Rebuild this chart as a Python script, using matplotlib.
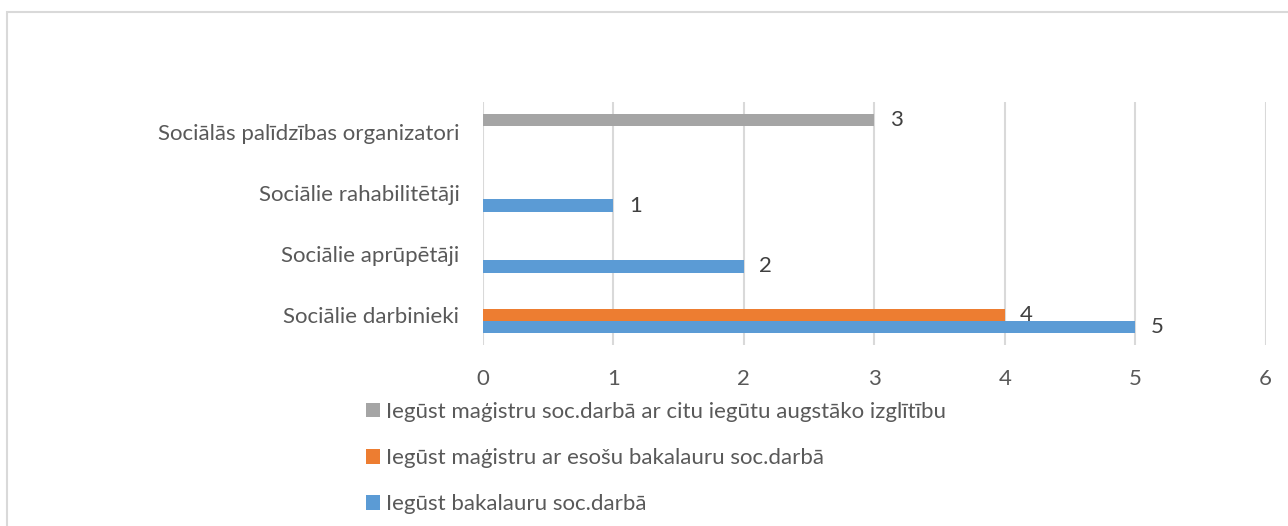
import matplotlib
matplotlib.use("Agg")
import matplotlib.pyplot as plt
from matplotlib.patches import Rectangle
import numpy as np

categories = ["Sociālie darbinieki", "Sociālie aprūpētāji", "Sociālie rahabilitētāji",
              "Sociālās palīdzības organizatori"]
series_names = ["Iegūst bakalauru soc.darbā",
                "Iegūst maģistru ar esošu bakalauru soc.darbā",
                "Iegūst maģistru soc.darbā ar citu iegūtu augstāko izglītību"]
bakalaurs = [5, 2, 1, 0]
magistrs_ar_bak = [4, 0, 0, 0]
magistrs_cits = [0, 0, 0, 3]
x_ticks = [0, 1, 2, 3, 4, 5, 6]

colors = ["#5b9bd5", "#ed7d31", "#a5a5a5"]
text_color = "#595959"
grid_color = "#d9d9d9"
FONT = "Lato"
FS = 16

plt.rcParams['font.family'] = [FONT, 'DejaVu Sans']

W, H = 1288, 526
fig = plt.figure(figsize=(W/100, H/100), dpi=100)
ax = fig.add_axes([483/W, 1-345/H, (1265.7-483)/W, (345-102)/H])

y = np.arange(len(categories))
h = 0.2
all_series = [bakalaurs, magistrs_ar_bak, magistrs_cits]
offsets = [-h, 0, h]
handles = []
for vals, off, c, name in zip(all_series, offsets, colors, series_names):
    bars = ax.barh(y + off, vals, height=h, color=c, label=name)
    handles.append(bars)
    labels = [str(v) if v != 0 else "" for v in vals]
    ax.bar_label(bars, labels=labels, padding=11, fontsize=FS, color="#404040")

ax.set_xlim(0, 6)
ax.set_ylim(-0.49, 3.5)
ax.set_xticks(x_ticks)
ax.set_xticklabels([str(t) for t in x_ticks])
ax.set_yticks(y)
ax.set_yticklabels(categories)
ax.tick_params(axis='x', length=0, pad=17, labelsize=FS, labelcolor=text_color)
ax.tick_params(axis='y', length=0, pad=17, labelsize=FS, labelcolor=text_color)
for s in ax.spines.values():
    s.set_visible(False)
ax.grid(axis='x', color=grid_color, linewidth=1.5)
ax.set_axisbelow(True)

leg = fig.legend(handles[::-1], series_names[::-1], loc='upper left',
                 bbox_to_anchor=(366/W, 1-402/H), frameon=False,
                 fontsize=FS, labelcolor=text_color, handlelength=0.62,
                 handleheight=0.62, handletextpad=0.3, labelspacing=1.18,
                 borderaxespad=0, borderpad=0)

fig.add_artist(Rectangle((7/W, -0.1), 2, (H-12)/H + 0.1, transform=fig.transFigure,
                         fill=False, edgecolor=grid_color, linewidth=1.5, clip_on=False))

fig.savefig("out.png", dpi=100)
